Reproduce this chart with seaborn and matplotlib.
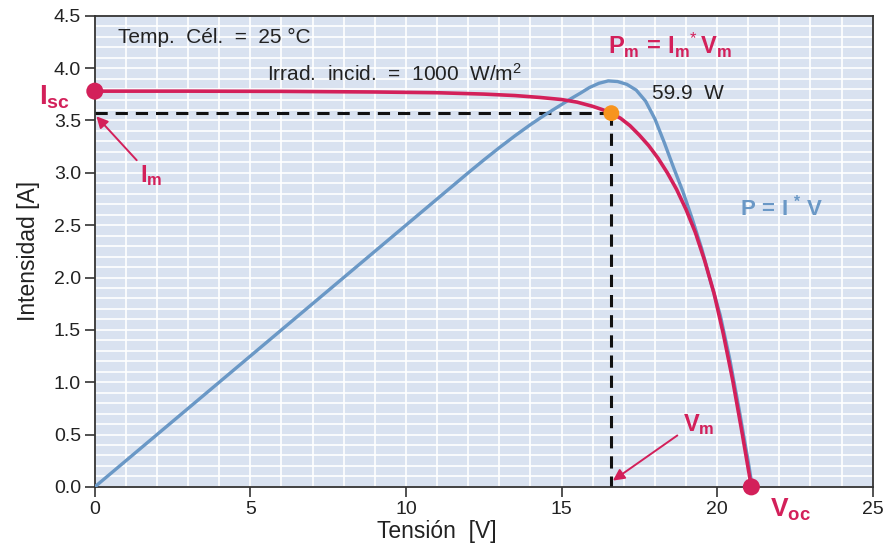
import matplotlib
matplotlib.use("Agg")
import matplotlib.pyplot as plt
from matplotlib.ticker import MultipleLocator
import pandas as pd
import seaborn as sns

# I-V curve of the module (V, A)
volt_iv = [0, 3, 6, 9, 11, 12.5, 13.5, 14.3, 15.0, 15.5, 16.0, 16.3, 16.6, 16.9,
           17.2, 17.5, 17.8, 18.1, 18.4, 18.7, 19.0, 19.3, 19.6, 19.9, 20.2,
           20.5, 20.8, 21.1]
current_iv = [3.78, 3.78, 3.778, 3.772, 3.765, 3.752, 3.738, 3.72, 3.70, 3.675,
              3.635, 3.605, 3.57, 3.52, 3.45, 3.36, 3.26, 3.14, 3.00, 2.84, 2.65,
              2.43, 2.16, 1.85, 1.46, 1.02, 0.52, 0.0]

# P = I * V curve, drawn on the current scale
volt_p = [0, 12.0, 12.5, 13.0, 13.5, 14.0, 14.5, 15.0, 15.3, 15.6, 15.9, 16.2,
          16.5, 16.8, 17.1, 17.4, 17.7, 18.0, 18.3, 18.6, 18.9, 19.2, 19.5,
          19.8, 20.1, 20.4, 20.7, 21.0, 21.13]
power_curve = [0, 3.0, 3.122, 3.24, 3.353, 3.46, 3.56, 3.652, 3.708, 3.76, 3.815,
               3.855, 3.878, 3.872, 3.845, 3.79, 3.685, 3.515, 3.29, 3.05, 2.82,
               2.56, 2.28, 1.95, 1.64, 1.23, 0.75, 0.24, 0.0]

# Characteristic points
i_sc = 3.78
v_oc = 21.1
v_m = 16.6
i_m = 3.57
p_max = 59.9

x_ticks = [0, 5, 10, 15, 20, 25]
y_ticks = [0.0, 0.5, 1.0, 1.5, 2.0, 2.5, 3.0, 3.5, 4.0, 4.5]

RED = "#d3205a"
BLUE = "#6a98c6"
ORANGE = "#f7941e"
TXT = "#222222"

sns.set_theme(style="white")
plt.rcParams["font.family"] = ["Liberation Sans", "DejaVu Sans"]
plt.rcParams["mathtext.fontset"] = "custom"
plt.rcParams["mathtext.rm"] = "Liberation Sans"
plt.rcParams["mathtext.it"] = "Liberation Sans:italic"
plt.rcParams["mathtext.bf"] = "Liberation Sans:bold"

fig = plt.figure(figsize=(8.86, 5.44), dpi=100)
ax = fig.add_axes([0.107, 0.105, 0.878, 0.866])
ax.set_facecolor("#d9e2f0")

iv = pd.DataFrame({"V": volt_iv, "I": current_iv})
pv = pd.DataFrame({"V": volt_p, "P": power_curve})

sns.lineplot(data=pv, x="V", y="P", ax=ax, color=BLUE, linewidth=2.4,
             sort=False, estimator=None, zorder=3)
sns.lineplot(data=iv, x="V", y="I", ax=ax, color=RED, linewidth=2.6,
             sort=False, estimator=None, zorder=4)

# dashed guides to the maximum power point
ax.plot([0, v_m], [i_m, i_m], color="#111111", lw=2.2, ls=(0, (4, 2.6)), zorder=2)
ax.plot([v_m, v_m], [i_m, 0], color="#111111", lw=2.2, ls=(0, (4, 2.6)), zorder=2)

pts = pd.DataFrame({"V": [0, v_oc], "I": [i_sc, 0]})
sns.scatterplot(data=pts, x="V", y="I", ax=ax, color=RED, s=150,
                edgecolor="none", zorder=6, clip_on=False)
sns.scatterplot(x=[v_m], y=[i_m], ax=ax, color=ORANGE, s=130,
                edgecolor="none", zorder=6, clip_on=False)

ax.set_xlim(0, 25)
ax.set_ylim(0, 4.5)
ax.set_xticks(x_ticks)
ax.set_yticks(y_ticks)
ax.set_xticklabels([str(t) for t in x_ticks])
ax.set_yticklabels([f"{t:.1f}" for t in y_ticks])
ax.xaxis.set_minor_locator(MultipleLocator(1))
ax.yaxis.set_minor_locator(MultipleLocator(0.1))
ax.grid(which="both", color="white", linewidth=1.2)
ax.set_axisbelow(True)
ax.tick_params(which="major", direction="out", length=7, width=1.2,
               color="#333333", labelsize=14, labelcolor=TXT, pad=3,
               bottom=True, left=True)
ax.tick_params(which="minor", length=0)
for s in ax.spines.values():
    s.set_visible(True)
    s.set_color("#333333")
    s.set_linewidth(1.3)

ax.set_xlabel("Tensión  [V]", fontsize=16.5, color=TXT)
ax.xaxis.set_label_coords(0.44, -0.07)
ax.set_ylabel("Intensidad [A]", fontsize=16.5, color=TXT, labelpad=10)

ax.text(0.74, 4.29, "Temp.  Cél.  =  25 °C", fontsize=15, color=TXT, va="center")
ax.text(5.53, 3.95, "Irrad.  incid.  =  1000  W/m$^2$", fontsize=15, color=TXT,
        va="center")
ax.text(17.9, 3.76, f"{p_max}  W", fontsize=15, color=TXT, va="center")

ax.text(16.5, 4.22, r"$\mathbf{P}_{\mathbf{m}}\mathbf{\,=\,I}_{\mathbf{m}}{}^{*}\,\mathbf{V}_{\mathbf{m}}$",
        fontsize=17, color=RED, va="center")
ax.text(20.75, 2.67, r"$\mathbf{P\,=\,I\ ^{*}\ V}$", fontsize=16, color=BLUE,
        va="center")

ax.text(-1.8, 3.72, r"$\mathbf{I}_{\mathbf{sc}}$", fontsize=20, color=RED,
        va="center", clip_on=False)
ax.text(21.7, -0.22, r"$\mathbf{V}_{\mathbf{oc}}$", fontsize=19, color=RED,
        va="center", clip_on=False)

ax.annotate(r"$\mathbf{I}_{\mathbf{m}}$", xy=(0.05, i_m - 0.03), xytext=(1.45, 2.97),
            fontsize=17, color=RED, va="center",
            arrowprops=dict(arrowstyle="-|>", color=RED, lw=1.4,
                            mutation_scale=17, shrinkA=0, shrinkB=0),
            zorder=7)
ax.annotate(r"$\mathbf{V}_{\mathbf{m}}$", xy=(v_m + 0.05, 0.06), xytext=(18.9, 0.6),
            fontsize=17, color=RED, va="center",
            arrowprops=dict(arrowstyle="-|>", color=RED, lw=1.4,
                            mutation_scale=17, shrinkA=2, shrinkB=0,
                            relpos=(0.0, 0.2)),
            zorder=7)

fig.savefig("out.png", dpi=100, facecolor="white")
